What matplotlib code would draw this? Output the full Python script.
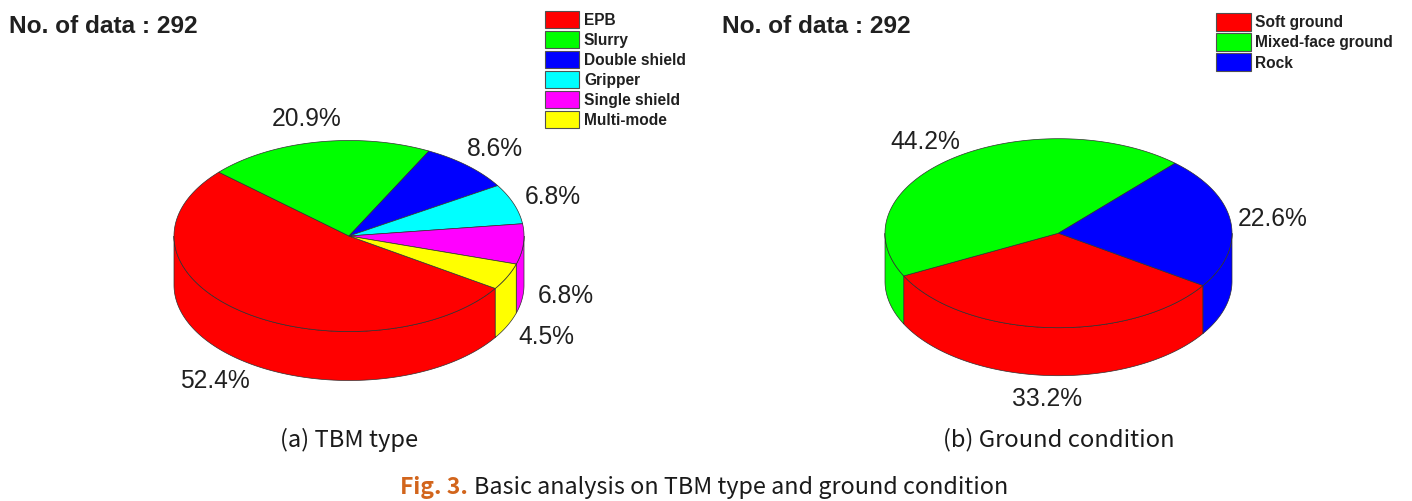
import numpy as np
import matplotlib
matplotlib.use("Agg")
import matplotlib.pyplot as plt
from matplotlib.patches import Polygon, Rectangle

# ---- data ----
tbm_labels = ["EPB", "Slurry", "Double shield", "Gripper", "Single shield", "Multi-mode"]
tbm_values = [52.4, 20.9, 8.6, 6.8, 6.8, 4.5]
tbm_colors = ["#FF0000", "#00FF00", "#0000FF", "#00FFFF", "#FF00FF", "#FFFF00"]

ground_labels = ["Soft ground", "Mixed-face ground", "Rock"]
ground_values = [33.2, 44.2, 22.6]
ground_colors = ["#FF0000", "#00FF00", "#0000FF"]

n_data = 292

W, H = 1412, 502
fig = plt.figure(figsize=(W / 100, H / 100), dpi=100)
ax = fig.add_axes([0, 0, 1, 1])
ax.set_xlim(0, W)
ax.set_ylim(H, 0)
ax.axis("off")

EDGE = "#303030"
LW = 0.5
ARIAL = "Liberation Sans"
CAP = "Noto Sans CJK KR"


def pie3d(cx, cy, rx, ry, depth, values, colors, start):
    """Extruded elliptical pie, slices running clockwise from `start` degrees."""
    frac = np.asarray(values, float) / np.sum(values)
    angle = start
    spans = []
    for f in frac:
        a1 = angle - f * 360
        spans.append((a1, angle))
        angle = a1

    def pt(a):
        r = np.radians(a)
        return cx + rx * np.cos(r), cy - ry * np.sin(r)

    # outer walls: the part of each slice in the front half (180..360 deg)
    for (a0, a1), c in zip(spans, colors):
        for k in (-360, 0, 360):
            lo, hi = max(a0 + k, 180), min(a1 + k, 360)
            if hi <= lo:
                continue
            th = np.linspace(lo, hi, 120)
            x, y = pt(th)
            xy = np.r_[np.c_[x, y], np.c_[x[::-1], y[::-1] + depth]]
            ax.add_patch(Polygon(xy, closed=True, fc=c, ec=EDGE, lw=LW, zorder=2))
    # top face
    for (a0, a1), c in zip(spans, colors):
        th = np.linspace(a0, a1, 240)
        x, y = pt(th)
        xy = np.r_[[[cx, cy]], np.c_[x, y]]
        ax.add_patch(Polygon(xy, closed=True, fc=c, ec=EDGE, lw=LW, zorder=3))


def legend(x0, x1, ys, h, tx, labels, colors):
    for y, lab, c in zip(ys, labels, colors):
        ax.add_patch(Rectangle((x0, y), x1 - x0, h, fc=c, ec="#505050", lw=0.8, zorder=2))
        ax.text(tx, y + h / 2, lab, fontsize=11.2, fontweight="bold", family=ARIAL,
                color="#202020", va="center", ha="left")


pie3d(349, 237, 175, 95.5, 49, tbm_values, tbm_colors, 326.7)
pie3d(1058.5, 234.2, 173.5, 94.5, 48, ground_values, ground_colors, 326.4)

# percentage labels
tbm_pos = [(215, 381), (306.5, 119), (495, 149), (553, 197), (566, 296), (546, 337)]
ground_pos = [(1047, 399), (925, 142), (1272.5, 219)]
for vals, pos in ((tbm_values, tbm_pos), (ground_values, ground_pos)):
    for v, (x, y) in zip(vals, pos):
        ax.text(x, y, f"{v:.1f}%", fontsize=17.7, family=ARIAL, color="#202020",
                ha="center", va="center")

# headers
for x in (9, 722):
    ax.text(x, 26.5, f"No. of data : {n_data}", fontsize=17.6, fontweight="bold",
            family=ARIAL, color="#202020", ha="left", va="center")

# legends
legend(545, 579, [12 + 20 * i for i in range(len(tbm_labels))], 17, 584, tbm_labels, tbm_colors)
legend(1216, 1251, [14 + 20 * i for i in range(len(ground_labels))], 18, 1255, ground_labels, ground_colors)

# captions
ax.text(349, 440, "(a) TBM type", fontsize=17.1, family=CAP, color="#1a1a1a", ha="center", va="center")
ax.text(1058.5, 440, "(b) Ground condition", fontsize=17.1, family=CAP, color="#1a1a1a", ha="center", va="center")
ax.text(400, 487.5, "Fig. 3.", fontsize=16.5, fontweight="bold", family=CAP, color="#D2651C", ha="left", va="center")
ax.text(474, 487.5, "Basic analysis on TBM type and ground condition", fontsize=16.8, family=CAP,
        color="#1a1a1a", ha="left", va="center")

fig.savefig("out.png", dpi=100, facecolor="white")
